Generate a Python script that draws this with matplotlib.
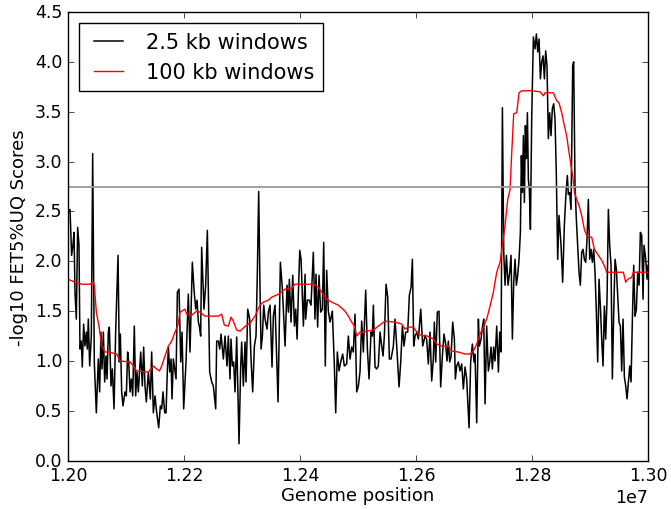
import matplotlib
matplotlib.use("Agg")
import matplotlib.pyplot as plt

# Window positions are given in kb from the start of the region (12,000,000 bp)
region_start = 12000000

# 2.5 kb windows
win_small_kb = [
    0, 3.5, 6.3, 8.6, 10.4, 12.1, 14.4, 16.7, 19.0, 20.7, 23.0, 24.7, 27.0, 29.3, 31.6, 33.4, 35.1, 37.4, 40.3, 42.6,
    45.4, 48.9, 52.3, 54.6, 56.9, 58.7, 61.0, 63.3, 65.6, 67.3, 69.6, 71.3, 74.2, 76.5, 79.4, 82.2, 86.3, 88.6, 90.3, 92.6,
    94.9, 98.3, 100.6, 102.9, 104.7, 107.0, 109.3, 111.6, 114.4, 116.7, 119.0, 121.3, 125.4, 128.2, 130.5, 132.8, 135.1,
    138.6, 142.0, 144.3, 147.2, 150.1, 153.0, 156.4, 159.3, 161.6, 163.9, 166.8, 169.1, 171.4, 173.1, 175.4, 177.7, 179.4,
    181.7, 184.0, 186.3, 188.6, 191.5, 194.4, 196.7, 199.5,
    203.5, 207.5, 210.4, 214.4, 217.3, 220.2, 222.5, 224.8, 226.5, 228.8, 230.5, 234.5, 237.4, 240.3, 244.3, 247.8, 250.6,
    254.7, 256.4, 259.3, 261.6, 263.9, 267.9, 270.8, 274.2, 276.5, 279.4, 281.1, 283.4, 285.7, 288.0, 290.9, 294.9, 297.8,
    299.5, 302.4, 305.3, 307.0, 309.9, 313.3, 315.6, 318.5, 321.4, 324.2, 326.5, 328.8, 331.1, 332.9, 335.2, 337.5, 339.8,
    343.2, 345.5, 348.4, 351.8, 354.1, 357.0, 362.2, 366.2, 369.7, 374.3, 377.7, 380.0, 381.7, 384.6, 387.5, 390.4, 392.7,
    395.0, 397.3, 399.6, 401.9, 405.9, 408.8,
    409.8, 412.7, 416.1, 419.0, 423.0, 425.9, 427.6, 430.5, 432.8, 435.7, 438.6, 440.9, 443.7, 446.0, 448.9, 451.8, 455.8,
    459.3, 461.6, 464.4, 467.3, 470.2, 473.6, 476.5, 480.5, 483.4, 486.3, 489.2, 492.0, 494.9, 497.8, 500.7, 503.5, 506.4,
    509.3, 513.3, 516.2, 519.1, 522.5, 524.8, 526.5, 529.4, 532.3, 535.1, 538.0, 540.9, 543.2, 545.5, 548.4, 551.3, 554.1,
    557.0, 561.0, 563.9, 566.8, 570.8, 573.7, 576.6, 579.4, 582.3, 585.7, 588.6, 591.5, 593.8, 596.1, 598.4, 601.8, 604.1,
    608.2, 611.6, 615.7,
    618.4, 621.3, 624.2, 627.1, 629.9, 631.7, 634.0, 636.8, 639.7, 642.6, 645.5, 648.3, 651.2, 653.5, 655.8, 658.1, 660.4,
    663.3, 666.2, 667.9, 670.2, 673.1, 675.9, 678.8, 681.7, 684.6, 687.4, 691.5, 694.3, 697.2, 700.1, 701.8, 704.7, 707.6,
    709.3, 712.2, 714.5, 716.8, 719.1, 721.9, 724.8, 727.1, 729.4, 731.7, 734.0, 736.3, 739.2, 742.1, 744.4, 746.7, 749.0,
    751.3, 753.6, 755.9, 758.7, 761.6, 763.9, 766.2, 768.5, 770.8, 773.1, 775.4, 777.7, 780.0, 781.7, 783.5, 785.2, 786.9,
    788.6, 790.4, 792.1, 793.8, 795.5, 797.3, 799.6, 802.4, 805.3, 807.6, 809.9, 812.2, 814.5, 816.8, 819.1, 821.4,
    823.6, 825.9, 828.2, 830.5, 832.8, 835.1, 837.4, 839.7, 842.0, 844.3, 846.6, 850.1, 852.9, 855.8, 858.7, 861.0, 862.7,
    865.0, 867.3, 870.2, 871.9, 874.2, 876.5, 878.8, 881.1, 883.4, 885.7, 888.0, 890.3, 892.6, 894.9, 897.2, 899.5, 901.8,
    904.1, 906.4, 908.7, 911.0, 913.3, 915.6, 917.9, 920.2, 922.5, 924.8, 927.1, 929.4, 931.7, 934.0, 936.3, 938.6, 940.9,
    943.2, 945.5, 947.8, 950.1, 952.4, 954.7, 957.0, 959.3, 961.6, 963.9, 966.2, 968.5, 970.8, 973.1, 975.4, 977.7, 980.0,
    982.3, 984.6, 986.9, 989.2, 991.5, 993.2, 996.1, 998.4, 1000.0,
]
win_small_score = [
    2.49, 2.52, 2.06, 2.16, 2.29, 1.69, 1.42, 2.34, 2.16, 1.12, 1.20, 0.94, 1.37, 1.15, 1.29, 1.12, 1.42, 0.95, 1.25, 3.08,
    0.99, 0.48, 1.02, 0.69, 1.29, 0.92, 1.29, 0.79, 1.05, 0.82, 1.29, 1.34, 0.75, 0.92, 0.52, 1.29, 2.06, 0.99, 1.27, 0.69,
    0.55, 0.69, 0.65, 1.09, 0.99, 0.69, 0.82, 0.65, 1.35, 0.65, 0.89, 0.69, 1.09, 0.75, 1.14, 0.75, 0.59,
    0.89, 0.62, 1.09, 0.48, 0.65, 0.48, 0.33, 0.55, 0.52, 0.69, 0.48, 0.48, 0.92, 1.14, 0.89, 1.02, 0.62,
    1.02, 0.92, 0.82, 1.69, 1.72, 0.99, 1.29, 0.52,
    0.99, 1.67, 1.09, 1.99, 1.72, 1.52, 1.61, 1.39, 1.35, 1.25, 2.14, 1.52, 1.76, 2.31, 0.89, 0.79, 0.75,
    0.52, 1.20, 1.20, 1.12, 1.27, 1.02, 1.25, 0.95, 1.25, 0.82, 1.22, 0.95, 0.99, 0.69, 1.24, 0.17, 0.95,
    1.19, 0.75, 1.19, 0.79, 1.52, 1.42, 1.02, 0.69, 1.15, 1.25, 1.89, 2.70, 1.72, 1.12, 1.25, 1.56, 1.42,
    1.32, 1.49, 1.56, 0.94, 1.45, 1.56, 0.59, 1.99, 1.72, 1.15, 1.76, 1.49, 1.82, 1.39, 1.86, 1.35, 1.52,
    1.22, 1.69, 2.11, 2.02, 1.35, 1.87,
    1.42, 1.61, 1.61, 1.56, 2.09, 1.42, 1.87, 1.34, 1.86, 1.49, 1.52, 2.19, 0.95, 1.91, 1.50, 1.39, 1.50,
    0.95, 0.48, 1.09, 0.90, 0.99, 1.07, 0.95, 0.97, 1.25, 1.02, 1.14, 1.09, 1.47, 0.69, 0.75, 0.89, 1.40,
    1.09, 1.71, 1.12, 0.82, 1.29, 1.25, 1.56, 0.94, 0.92, 0.95, 1.29, 1.15, 1.05, 1.25, 1.77, 1.64, 1.02,
    1.02, 1.15, 1.42, 1.15, 0.74, 0.99, 1.35, 1.15, 1.29, 1.29, 1.66, 1.74, 2.02, 1.15, 1.25, 1.29, 1.22,
    1.52, 1.15, 1.25,
    1.22, 0.97, 1.29, 0.80, 1.02, 1.39, 0.99, 1.49, 1.50, 0.74, 1.05, 1.27, 1.17, 1.00, 1.20, 0.99, 1.04,
    1.39, 1.22, 0.82, 0.95, 0.99, 0.90, 0.97, 0.72, 0.94, 0.82, 0.33, 0.99, 1.17, 0.99, 1.07, 0.38, 1.42,
    1.15, 1.22, 1.34, 1.42, 0.57, 1.35, 0.90, 0.99, 1.14, 0.92, 1.14, 1.00, 1.35, 0.89, 1.29, 1.09, 3.54,
    2.09, 1.76, 2.06, 1.76, 1.89, 2.06, 1.22, 1.79, 2.02, 1.76, 1.86, 2.02, 2.29, 3.06, 2.69, 3.26, 2.59,
    3.36, 3.03, 3.49, 2.82, 2.72, 2.32, 3.46, 4.25, 4.13, 4.28, 4.10, 4.23, 3.83, 4.00, 4.06, 3.83,
    4.11, 3.96, 3.23, 3.49, 3.26, 3.53, 3.58, 3.43, 2.86, 2.02, 2.46, 2.16, 1.79, 2.36, 2.69, 2.86, 2.67,
    2.69, 2.52, 3.96, 4.00, 2.76, 2.42, 2.16, 1.89, 1.76, 2.09, 2.12, 2.02, 1.99, 2.22, 2.62, 2.02, 2.12,
    1.99, 2.12, 1.89, 1.49, 0.99, 1.82, 1.55, 1.22, 0.95, 1.55, 1.22, 1.62, 2.52, 2.16, 1.96, 0.82, 1.49,
    2.02, 1.92, 1.65, 1.39, 1.35, 0.90, 1.42, 0.84, 0.75, 0.62, 0.79, 0.95, 0.79, 1.42, 1.96, 1.45, 1.52,
    1.89, 1.76, 2.29, 2.26, 1.62, 2.16, 2.02, 1.82, 1.96,
]

# 100 kb windows
win_large_kb = [
    0, 12.1, 23.6, 38.0, 43.7, 45.4, 48.9, 53.5, 58.1, 63.8, 69.6, 84.0, 89.7, 107.0, 112.7, 118.5, 138.6, 147.2,
    153.0, 157.6, 161.6, 167.3, 173.1, 178.8, 184.6, 189.2, 193.2, 201.8,
    204.6, 213.3, 221.9, 227.6, 236.3, 247.8, 259.3, 265.0, 269.6, 276.5, 281.1, 285.1, 290.9, 296.6, 302.4, 308.1,
    313.9, 322.5, 331.1, 336.9, 345.5, 351.3, 362.8, 374.3, 385.8, 391.5,
    423.0, 431.7, 437.4, 446.0, 454.7, 466.2, 477.7, 483.4, 489.2, 493.8, 497.8, 503.5, 509.3, 515.0, 526.5, 535.1,
    546.7, 563.9, 575.4, 581.2, 586.9, 595.5, 604.1, 612.8,
    615.6, 629.9, 635.7, 644.3, 655.8, 661.6, 673.1, 684.6, 693.2, 699.0, 704.7, 710.4, 716.2, 721.9, 727.7, 733.4,
    739.2, 744.9, 749.0, 753.6, 758.2, 762.2, 765.1, 768.5, 773.7, 777.7, 782.3, 799.6, 813.9, 819.7, 822.6,
    836.8, 842.6, 846.6, 851.2, 855.8, 859.8, 863.9, 867.3, 870.8, 873.1, 877.1, 881.1, 885.7, 890.3, 894.3, 903.0,
    907.6, 914.5, 920.2, 926.0, 928.8, 957.6, 961.6, 965.0, 972.0, 974.8, 1000.0,
]
win_large_score = [
    1.82, 1.79, 1.77, 1.77, 1.79, 1.76, 1.49, 1.35, 1.15, 1.09, 1.09, 1.07, 1.00, 0.99, 0.95, 0.90, 0.89, 0.95,
    0.92, 0.90, 0.95, 1.05, 1.15, 1.20, 1.29, 1.35, 1.49, 1.52,
    1.47, 1.46, 1.50, 1.49, 1.45, 1.45, 1.45, 1.47, 1.36, 1.35, 1.44, 1.40, 1.31, 1.30, 1.33, 1.36,
    1.38, 1.45, 1.56, 1.59, 1.61, 1.64, 1.67, 1.72, 1.73, 1.77,
    1.77, 1.74, 1.69, 1.62, 1.59, 1.56, 1.50, 1.45, 1.39, 1.35, 1.25, 1.29, 1.29, 1.30, 1.31, 1.35,
    1.40, 1.39, 1.37, 1.32, 1.34, 1.34, 1.27, 1.25,
    1.26, 1.22, 1.17, 1.15, 1.15, 1.10, 1.09, 1.07, 1.07, 1.10, 1.17, 1.27, 1.34, 1.42, 1.55, 1.69,
    1.89, 1.99, 2.16, 2.36, 2.62, 2.72, 3.09, 3.48, 3.49, 3.69, 3.71, 3.71, 3.70, 3.66, 3.69,
    3.69, 3.61, 3.59, 3.49, 3.36, 3.26, 3.09, 2.96, 2.83, 2.69, 2.62, 2.56, 2.46, 2.32, 2.26, 2.24,
    2.12, 2.06, 2.01, 1.94, 1.89, 1.89, 1.79, 1.82, 1.84, 1.89, 1.89,
]

threshold = 2.745

x_small = [region_start + k * 1000 for k in win_small_kb]
x_large = [region_start + k * 1000 for k in win_large_kb]

plt.style.use("classic")
fig = plt.figure(figsize=(6.71, 5.10), dpi=100, facecolor="white")
ax = fig.add_axes([0.1013, 0.0947, 0.8644, 0.8798])

ax.plot(x_small, win_small_score, color="black", lw=1.1, label="2.5 kb windows")
ax.plot(x_large, win_large_score, color="red", lw=1.0, label="100 kb windows")
ax.axhline(threshold, color="#999999", lw=1.3)

ax.set_xlim(1.20e7, 1.30e7)
ax.set_ylim(0, 4.5)
ax.set_xticks([1.20e7, 1.22e7, 1.24e7, 1.26e7, 1.28e7, 1.30e7])
ax.set_yticks([0.0, 0.5, 1.0, 1.5, 2.0, 2.5, 3.0, 3.5, 4.0, 4.5])
ax.ticklabel_format(axis="x", style="sci", scilimits=(0, 0), useOffset=False)
ax.tick_params(labelsize=12.5)
ax.xaxis.get_offset_text().set_fontsize(12.5)

ax.set_xlabel("Genome position", fontsize=13, labelpad=1)
ax.set_ylabel("-log10 FET5%UQ Scores", fontsize=13)

leg = ax.legend(loc="upper left", fontsize=15, frameon=True, fancybox=False,
                handlelength=2.0, borderaxespad=0.55)
leg.get_frame().set_linewidth(1.0)

fig.savefig("out.png", dpi=100, facecolor="white")
